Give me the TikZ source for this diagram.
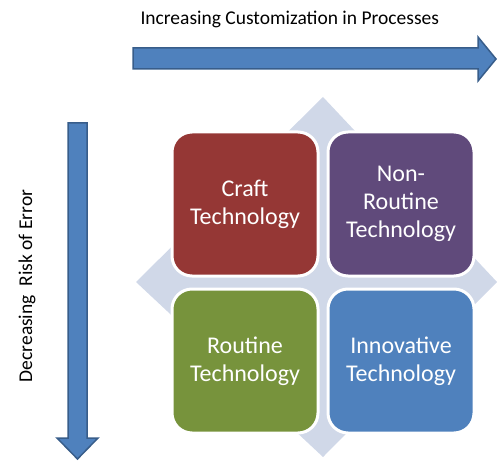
\documentclass[tikz,border=0pt]{standalone}
\usepackage{fontspec}
\setmainfont{Carlito}
\usepackage{tikz}

\definecolor{craftred}{HTML}{953735}
\definecolor{nonroutinepurple}{HTML}{604A7B}
\definecolor{routinegreen}{HTML}{77933C}
\definecolor{innovativeblue}{HTML}{4F81BD}
\definecolor{arrowedge}{HTML}{385D8A}
\definecolor{backdrop}{HTML}{D0D8E8}

\tikzset{
    techbox/.style={draw=white, line width=3pt, rounded corners=20pt,
        minimum width=146pt, minimum height=144pt, align=center,
        text=white, font=\fontsize{24}{28}\selectfont},
    blockarrow/.style={fill=innovativeblue, draw=arrowedge, line width=1.5pt},
    axislabel/.style={font=\fontsize{19.5}{22}\selectfont}
}

\begin{document}
\begin{tikzpicture}[x=1pt, y=-1pt]

    \useasboundingbox (0,0) rectangle (497,462);

    % horizontal axis
    \draw[blockarrow] (133,48) -- (478,48) -- (478,37) -- (496,59)
        -- (478,81) -- (478,69) -- (133,69) -- cycle;
    \node[axislabel, anchor=base west] (custom) at (137,25)
        {Increasing Customization in Processes};

    % vertical axis
    \draw[blockarrow] (68,123) -- (87,123) -- (87,438) -- (98,438)
        -- (77.5,459) -- (57,438) -- (68,438) -- cycle;
    \node[axislabel, rotate=90, anchor=base] (risk) at (32,286)
        {Decreasing\ \ Risk of Error};

    % backdrop behind the grid
    \fill[backdrop] (323,97) -- (497,282) -- (323,457) -- (136,282) -- cycle;

    % the four technologies
    \node[techbox, fill=craftred] (craft) at (245,204)
        {Craft\\Technology};
    \node[techbox, fill=nonroutinepurple] (nonroutine) at (401,204)
        {Non-\\Routine\\Technology};
    \node[techbox, fill=routinegreen] (routine) at (245,361)
        {Routine\\Technology};
    \node[techbox, fill=innovativeblue] (innovative) at (401,361)
        {Innovative\\Technology};

\end{tikzpicture}
\end{document}
